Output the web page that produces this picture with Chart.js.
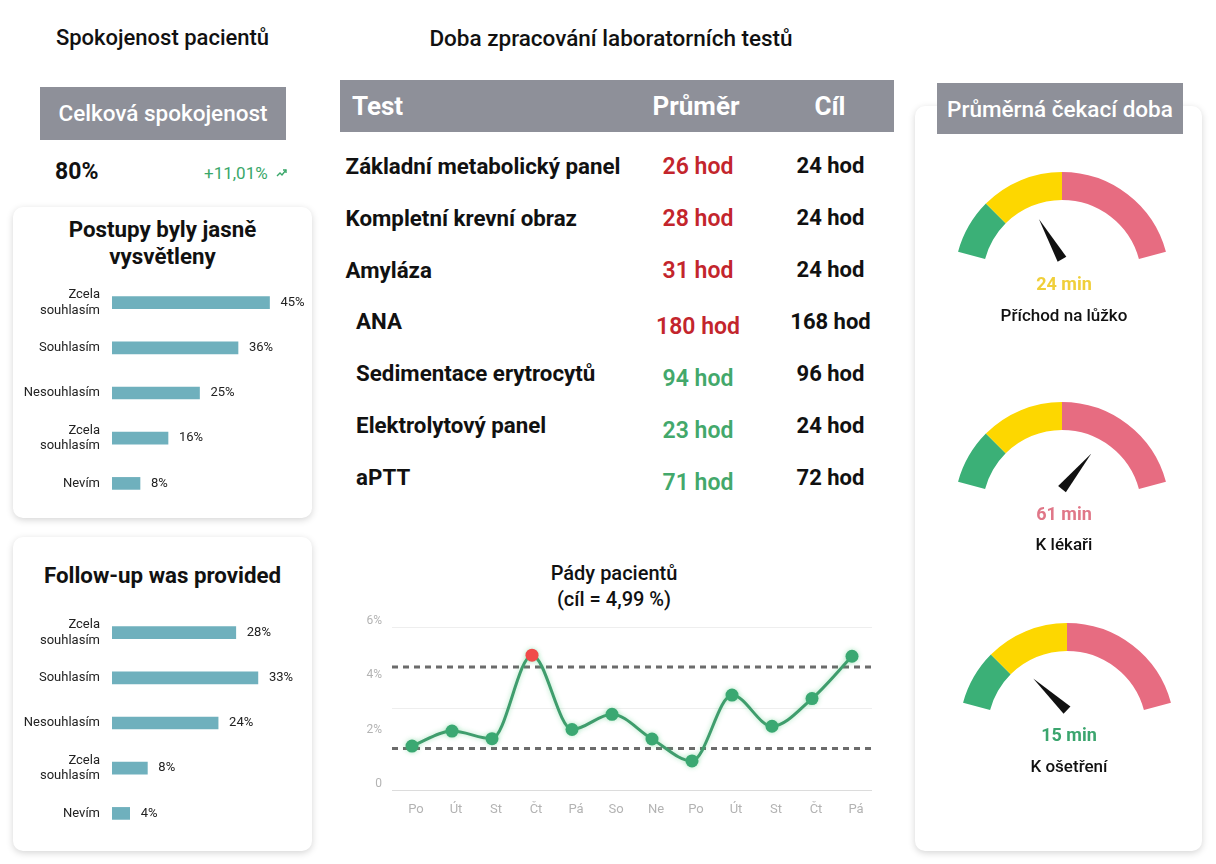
<!DOCTYPE html>
<html>
<head>
<meta charset="utf-8">
<script src="https://cdn.jsdelivr.net/npm/chart.js@4.4.1/dist/chart.umd.min.js"></script>
<style>
html,body{margin:0;padding:0;background:#fff;}
body{width:1216px;height:864px;position:relative;overflow:hidden;font-family:Roboto,"Noto Sans",sans-serif;color:#111;}
.abs{position:absolute;white-space:nowrap;}
.card{position:absolute;background:#fff;border-radius:10px;box-shadow:0 2px 7px rgba(0,0,0,0.17);}
.gray{position:absolute;background:#8e9099;color:#fff;}
canvas{position:absolute;}
.row .lbl{position:absolute;font-size:22.3px;font-weight:700;line-height:30px;}
.row .val{position:absolute;width:120px;text-align:center;font-size:23px;font-weight:600;line-height:30px;}
.row .tgt{position:absolute;width:120px;text-align:center;font-size:22px;font-weight:700;line-height:30px;}
</style>
</head>
<body>
<!-- Left column -->
<div class="abs" style="left:0;width:325px;top:25px;line-height:26px;text-align:center;font-size:22px;font-weight:500;">Spokojenost pacientů</div>
<div class="gray" style="left:40px;top:87px;width:246px;height:53px;line-height:53px;text-align:center;font-size:22.5px;font-weight:500;">Celková spokojenost</div>
<div class="abs" id="overall" style="left:55px;top:158px;line-height:28px;font-size:23px;font-weight:700;"></div>
<div class="abs" id="change" style="left:204px;top:160px;line-height:26px;font-size:17px;color:#3aa76a;"></div>
<svg class="abs" style="left:276px;top:168px;" width="12" height="10" viewBox="0 0 12 10"><polyline points="1,8 4,5 6,7 10,2" fill="none" stroke="#3aa76a" stroke-width="1.4"/><polyline points="7,2 10,2 10,5" fill="none" stroke="#3aa76a" stroke-width="1.4"/></svg>

<div class="card" style="left:12.5px;top:207px;width:299.5px;height:311px;"></div>
<div class="abs" style="left:12.5px;width:300px;top:215.5px;line-height:27px;text-align:center;font-size:22.3px;font-weight:700;white-space:normal;">Postupy byly jasně<br>vysvětleny</div>
<canvas id="bar1" width="300" height="246" style="left:12px;top:270px;"></canvas>

<div class="card" style="left:12.5px;top:537px;width:299.5px;height:314px;"></div>
<div class="abs" style="left:12.5px;width:300px;top:561.5px;line-height:27px;text-align:center;font-size:22.3px;font-weight:700;">Follow-up was provided</div>
<canvas id="bar2" width="300" height="246" style="left:12px;top:600px;"></canvas>

<!-- Middle column -->
<div class="abs" style="left:380px;width:462px;top:25px;line-height:26px;text-align:center;font-size:22.5px;font-weight:500;">Doba zpracování laboratorních testů</div>
<div class="gray" style="left:340px;top:80px;width:554px;height:52px;font-size:26px;font-weight:700;">
  <div class="abs" style="left:12px;top:11px;line-height:30px;">Test</div>
  <div class="abs" style="left:296px;width:120px;text-align:center;top:11px;line-height:30px;">Průměr</div>
  <div class="abs" style="left:430px;width:120px;text-align:center;top:11px;line-height:30px;">Cíl</div>
</div>
<div id="table" class="abs" style="left:0;top:0;"></div>

<div class="abs" style="left:464px;width:300px;top:560px;line-height:26px;text-align:center;font-size:20px;font-weight:500;">Pády pacientů<br>(cíl = 4,99 %)</div>
<canvas id="line" width="540" height="210" style="left:340px;top:610px;"></canvas>

<!-- Right column -->
<div class="card" style="left:915px;top:106px;width:287px;height:745px;"></div>
<div class="gray" style="left:937px;top:83px;width:246px;height:51px;line-height:53px;text-align:center;font-size:22.5px;font-weight:500;">Průměrná čekací doba</div>
<div id="gauges"></div>

<script>
// ---------- DATA ----------
const overallSatisfaction = '80%';
const satisfactionChange = '+11,01%';

const answerLabels = [['Zcela', 'souhlasím'], 'Souhlasím', 'Nesouhlasím', ['Zcela', 'souhlasím'], 'Nevím'];
const clearExplanation = [45, 36, 25, 16, 8];
const followUpProvided = [28, 33, 24, 8, 4];

const labTests = ['Základní metabolický panel', 'Kompletní krevní obraz', 'Amyláza', 'ANA', 'Sedimentace erytrocytů', 'Elektrolytový panel', 'aPTT'];
const avgHours = [26, 28, 31, 180, 94, 23, 71];
const targetHours = [24, 24, 24, 168, 96, 24, 72];

const fallDays = ['Po', 'Út', 'St', 'Čt', 'Pá', 'So', 'Ne', 'Po', 'Út', 'St', 'Čt', 'Pá'];
const fallRates = [1.62, 2.17, 1.89, 4.97, 2.23, 2.79, 1.88, 1.07, 3.50, 2.35, 3.37, 4.93];
const fallLimits = [4.53, 1.53];
const fallAlertIndex = 3;
const fallTicks = [0, 2, 4, 6];

const waitLabels = ['Příchod na lůžko', 'K lékaři', 'K ošetření'];
const waitMinutes = [24, 61, 15];
const waitZoneEnds = [16, 40, 80];

// ---------- STYLE / LAYOUT ----------
const FONT = 'Roboto';
Chart.defaults.font.family = FONT;
const RED = '#c3252c', GREEN = '#43a86b';
const zoneColors = ['#3bb077', '#fdd700', '#e76c81'];
const zoneTextColors = ['#3ba56e', '#f0cf3a', '#e07788'];
const gaugeLayout = [{left: 942, top: 172}, {left: 942, top: 401.5}, {left: 947, top: 623}];

document.getElementById('overall').textContent = overallSatisfaction;
document.getElementById('change').textContent = satisfactionChange;

// ---------- TABLE ----------
const tbl = document.getElementById('table');
labTests.forEach((name, i) => {
  const row = document.createElement('div');
  row.className = 'row';
  const y = 150.7 + i * 51.9;
  const indent = i >= 3 ? 10.5 : 0;
  const valShift = i >= 3 ? 6 : 1;
  row.innerHTML =
    `<div class="lbl" style="left:${345.6 + indent}px;top:${y}px">${name}</div>` +
    `<div class="val" style="left:638px;top:${y + valShift}px;color:${avgHours[i] > targetHours[i] ? RED : GREEN}">${avgHours[i]} hod</div>` +
    `<div class="tgt" style="left:770.5px;top:${y + 0.5}px">${targetHours[i]} hod</div>`;
  tbl.appendChild(row);
});

// ---------- BAR CHARTS ----------
const valueLabelPlugin = {
  id: 'valueLabels',
  afterDatasetsDraw(chart) {
    const {ctx} = chart;
    const meta = chart.getDatasetMeta(0);
    ctx.save();
    ctx.fillStyle = '#222';
    ctx.font = `13px ${FONT}`;
    ctx.textAlign = 'left';
    ctx.textBaseline = 'middle';
    meta.data.forEach((bar, i) => {
      ctx.fillText(chart.data.datasets[0].data[i] + '%', bar.x + 11, bar.y);
    });
    ctx.restore();
  }
};

function barChart(id, data, max) {
  new Chart(document.getElementById(id), {
    type: 'bar',
    data: {labels: answerLabels, datasets: [{data, backgroundColor: '#6fb0bd', barThickness: 12, borderWidth: 0}]},
    options: {
      indexAxis: 'y', responsive: false, animation: false,
      layout: {padding: {top: 10, bottom: 10, right: 32, left: 0}},
      plugins: {legend: {display: false}, tooltip: {enabled: false}},
      scales: {
        x: {display: false, min: 0, max},
        y: {
          grid: {display: false, drawTicks: false}, border: {display: false},
          ticks: {color: '#222', font: {size: 13}, padding: 12},
          afterFit(a) { a.width = 100; a.paddingTop = 0; a.paddingBottom = 0; }
        }
      }
    },
    plugins: [valueLabelPlugin]
  });
}
barChart('bar1', clearExplanation, 48);
barChart('bar2', followUpProvided, 38);

// ---------- LINE CHART ----------
const limitPlugin = {
  id: 'limits',
  beforeDatasetsDraw(chart) {
    const {ctx, chartArea: {left, right}, scales: {y}} = chart;
    ctx.save();
    ctx.strokeStyle = '#6b6b6b';
    ctx.lineWidth = 3;
    ctx.setLineDash([6, 5]);
    fallLimits.forEach(v => {
      const yy = y.getPixelForValue(v);
      ctx.beginPath(); ctx.moveTo(left, yy); ctx.lineTo(right, yy); ctx.stroke();
    });
    ctx.restore();
  },
  beforeDatasetDraw(chart) {
    chart.ctx.save();
    chart.ctx.shadowColor = 'rgba(70,200,120,0.45)';
    chart.ctx.shadowBlur = 5;
  },
  afterDatasetDraw(chart) { chart.ctx.restore(); }
};

new Chart(document.getElementById('line'), {
  type: 'line',
  data: {
    labels: fallDays,
    datasets: [{
      data: fallRates, borderColor: '#3f9d6d', borderWidth: 3, cubicInterpolationMode: 'monotone', fill: false,
      pointRadius: 6.5, pointHoverRadius: 6.5, pointBorderWidth: 0,
      pointBackgroundColor: ctx => ctx.dataIndex === fallAlertIndex ? '#f04a4a' : '#3aa872'
    }]
  },
  options: {
    responsive: false, animation: false,
    layout: {padding: {top: 16, right: 8, left: 0, bottom: 0}},
    plugins: {legend: {display: false}, tooltip: {enabled: false}},
    scales: {
      x: {
        offset: true, grid: {display: false, drawTicks: false}, border: {display: false},
        ticks: {color: '#b3b3b3', font: {size: 13}, padding: 12, labelOffset: 4, maxRotation: 0, autoSkip: false},
        afterFit(a) { a.height = 30; }
      },
      y: {
        min: 0, max: 6,
        grid: {
          drawTicks: false, lineWidth: 1,
          color: c => c.tick.value === 0 ? '#dcdcdc' : (c.tick.value % 3 === 0 ? '#eeeeee' : 'rgba(0,0,0,0)')
        },
        border: {display: false},
        ticks: {
          stepSize: 1, color: '#b3b3b3', font: {size: 12}, padding: 10, labelOffset: -6,
          callback: v => fallTicks.includes(v) ? (v === 0 ? '0' : v + '%') : ''
        },
        afterFit(a) { a.width = 52; }
      }
    }
  },
  plugins: [limitPlugin]
});

// ---------- GAUGES ----------
const needlePlugin = {
  id: 'needle',
  afterDatasetsDraw(chart, args, opts) {
    const meta = chart.getDatasetMeta(0);
    const first = meta.data[0], last = meta.data[meta.data.length - 1];
    const total = waitZoneEnds[waitZoneEnds.length - 1];
    const frac = Math.min(opts.value, total) / total;
    const a = first.startAngle + (last.endAngle - first.startAngle) * frac;
    const R = first.outerRadius;
    const px = first.x, py = first.y - R * 0.19;
    const len = R * 0.43, hw = 5;
    const {ctx} = chart;
    ctx.save();
    ctx.fillStyle = '#111';
    ctx.beginPath();
    ctx.moveTo(px + len * Math.cos(a), py + len * Math.sin(a));
    ctx.lineTo(px + hw * Math.cos(a + Math.PI / 2), py + hw * Math.sin(a + Math.PI / 2));
    ctx.lineTo(px + hw * Math.cos(a - Math.PI / 2), py + hw * Math.sin(a - Math.PI / 2));
    ctx.closePath();
    ctx.fill();
    ctx.restore();
  }
};

const zoneSizes = waitZoneEnds.map((e, i) => e - (i ? waitZoneEnds[i - 1] : 0));
const gaugeHost = document.getElementById('gauges');
waitMinutes.forEach((m, i) => {
  const L = gaugeLayout[i];
  const cv = document.createElement('canvas');
  cv.width = 240; cv.height = 120;
  cv.style.left = L.left + 'px'; cv.style.top = L.top + 'px';
  gaugeHost.appendChild(cv);
  const zone = waitZoneEnds.findIndex(e => m <= e);
  const val = document.createElement('div');
  val.className = 'abs';
  val.style.cssText = `left:${L.left}px;width:244px;text-align:center;top:${L.top + 100}px;line-height:24px;font-size:18px;font-weight:700;color:${zoneTextColors[zone]}`;
  val.textContent = m + ' min';
  gaugeHost.appendChild(val);
  const lab = document.createElement('div');
  lab.className = 'abs';
  lab.style.cssText = `left:${L.left}px;width:244px;text-align:center;top:${L.top + 130.5}px;line-height:24px;font-size:17px;font-weight:500;color:#111`;
  lab.textContent = waitLabels[i];
  gaugeHost.appendChild(lab);
  new Chart(cv, {
    type: 'doughnut',
    data: {labels: ['ok', 'warn', 'bad'], datasets: [{data: zoneSizes, backgroundColor: zoneColors, borderWidth: 0}]},
    options: {
      responsive: false, animation: false,
      rotation: -75, circumference: 150, cutout: '74%',
      layout: {padding: {bottom: 33}},
      plugins: {legend: {display: false}, tooltip: {enabled: false}, needle: {value: m}}
    },
    plugins: [needlePlugin]
  });
});
</script>
</body>
</html>
